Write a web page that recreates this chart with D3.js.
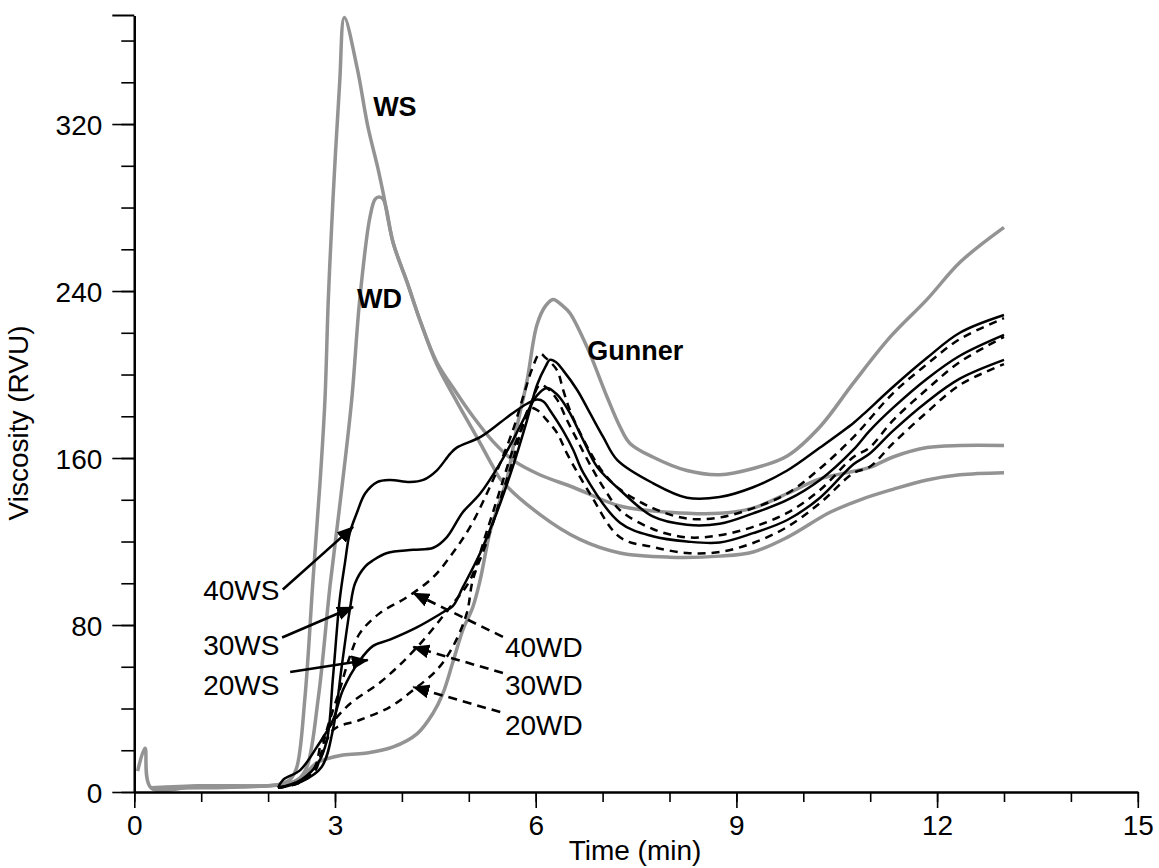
<!DOCTYPE html>
<html>
<head>
<meta charset="utf-8">
<script src="https://cdn.jsdelivr.net/npm/d3@7"></script>
<style>
body { margin: 0; background: #fff; }
text { font-family: Arial, "Liberation Sans", sans-serif; fill: #000; }
</style>
</head>
<body>
<svg id="chart" width="1159" height="868"></svg>
<script>
// axis setup
var timeDomain = [0, 15];
var viscDomain = [0, 372];
var xTicks = [0, 3, 6, 9, 12, 15];
var yTicks = [0, 80, 160, 240, 320];

// [time (min), viscosity (RVU)]
var ws = [[0.05,10],[0.16,21],[0.25,2],[1,3],[2,3],[2.2,4],[2.33,6],[2.43,12],[2.55,45],[2.67,101],[2.78,150],[2.85,188],[2.9,236],[2.97,284],[3.07,340],[3.14,371],[3.33,347],[3.49,319],[3.64,299],[3.72,287],[3.87,263],[4.08,244],[4.27,226],[4.52,205],[4.82,187],[5.12,170],[5.36,156],[5.47,150],[6.06,133],[6.66,121],[7.26,114.5],[8.0,112.5],[8.75,113],[9.25,115],[9.76,122],[10.4,134],[10.85,140],[11.34,145],[11.85,149.5],[12.34,152],[13,153]];
var wd = [[0.25,2],[1,2],[2,3],[2.3,4],[2.45,6],[2.58,12],[2.75,45],[2.93,100],[3.1,145],[3.25,188],[3.37,236],[3.52,275],[3.6,284],[3.66,285],[3.72,284],[3.87,263],[4.08,244],[4.27,226],[4.52,206],[4.8,192],[5.06,180],[5.36,168],[5.66,159],[6.06,152],[6.56,146],[7.26,137],[8.0,134],[8.75,133.5],[9.25,136],[9.76,143],[10.25,150],[10.99,155.5],[11.34,160.5],[11.85,165],[12.34,166],[13,166]];
var gunner = [[0.25,2],[1,3],[2,3],[2.3,4],[2.5,7],[2.73,14],[3.12,17.7],[3.48,18.7],[3.87,21.6],[4.23,28],[4.47,38],[4.61,47],[4.76,62],[4.91,77.6],[5.06,88.6],[5.17,101.6],[5.32,125],[5.47,140],[5.57,150],[5.72,175],[5.87,197],[6.02,224],[6.15,233],[6.26,236],[6.4,233],[6.51,229.5],[6.77,213],[7.07,189],[7.26,175],[7.41,167],[7.75,160.5],[8.26,154],[8.75,152],[9.25,155],[9.76,161],[10.25,175],[10.75,196],[11.3,218],[11.85,236],[12.35,254],[13,270.5]];

var ws40 = [[2.15,2],[2.5,6],[2.75,14],[2.88,25],[2.97,55],[3.07,92],[3.15,110],[3.22,124],[3.33,134],[3.45,143],[3.63,148.5],[3.82,149.5],[4.12,148.5],[4.32,149.5],[4.52,154],[4.72,162],[4.82,165],[5.17,170],[5.47,177],[5.66,181.6],[5.87,186],[6.02,188],[6.12,187],[6.21,183],[6.41,173],[6.56,164],[6.71,153],[7.26,129],[7.75,122.5],[8.26,120],[8.75,119.5],[9.25,124],[9.76,130.3],[10.25,141],[10.75,157],[10.99,162],[11.34,173],[11.85,187],[12.34,198],[13,207]];
var ws30 = [[2.15,2],[2.5,5],[2.8,12],[2.97,30],[3.1,60],[3.22,87],[3.3,100],[3.45,108],[3.57,111],[3.78,114.5],[4.17,116],[4.47,117],[4.67,122],[4.91,134],[5.17,143],[5.47,157.6],[5.66,168.6],[5.87,181.6],[6.02,190],[6.17,193.5],[6.3,191],[6.36,189],[6.51,181.6],[6.71,168.6],[6.92,155.7],[7.26,144.7],[7.75,132],[8.26,128],[8.75,128.5],[9.25,133.5],[9.76,139.9],[10.25,149.5],[10.75,164],[10.99,173],[11.34,184],[11.85,198],[12.34,209],[13,219]];
var ws20 = [[2.15,2],[2.22,5.7],[2.48,10.5],[2.73,21.6],[2.97,34.5],[3.12,49],[3.37,63],[3.57,70],[3.82,73],[4.23,79],[4.61,86],[4.76,89],[4.91,98],[5.17,114.5],[5.42,134],[5.66,156],[5.87,178],[6.02,195],[6.15,204],[6.21,207],[6.3,206],[6.41,202],[6.62,192.6],[6.81,181.6],[7.01,170],[7.22,159],[7.75,148],[8.26,141],[8.75,141.3],[9.25,146],[9.76,154],[10.25,165],[10.75,176.8],[10.9,181],[11.34,194],[11.85,208],[12.34,220],[13,228.5]];
var wd40 = [[2.15,2],[2.5,5],[2.7,10],[2.78,17],[2.88,30],[3.07,49],[3.22,64.7],[3.37,76],[3.67,85.7],[4.08,93.4],[4.47,103],[4.76,114.5],[5.02,127],[5.27,143],[5.47,157.6],[5.66,173.4],[5.81,189],[5.95,203],[6.06,210],[6.15,208],[6.32,202],[6.41,192.6],[6.51,183],[6.62,175],[6.81,163],[7.01,153],[7.26,145],[7.75,136],[8.26,131],[8.75,131.5],[9.25,136],[9.76,143],[10.25,155],[10.75,170],[11.34,191],[11.85,205],[12.34,217],[13,227]];
var wd30 = [[2.15,2],[2.5,5],[2.7,12],[2.82,26],[3.17,40.7],[3.72,53.7],[4.23,69.5],[4.72,88.6],[5.02,101.6],[5.27,125],[5.47,145],[5.66,164],[5.87,180],[6.06,195],[6.15,194],[6.32,188],[6.47,178],[6.62,168.6],[6.81,157],[7.03,145],[7.26,135],[7.75,126],[8.26,122],[8.75,123],[9.25,127],[9.76,133.7],[10.25,144.7],[10.75,160.5],[10.99,165],[11.34,178],[11.85,193],[12.34,206],[13,218]];
var wd20 = [[2.15,2],[2.5,5],[2.75,14],[2.97,29.7],[3.37,34.5],[3.82,40.7],[4.17,48.9],[4.52,58.4],[4.76,69.5],[4.97,85.7],[5.06,101.6],[5.27,120],[5.47,140],[5.66,159],[5.81,176],[5.91,184],[6.02,183],[6.17,178],[6.32,172],[6.47,162],[6.81,143],[7.26,122],[7.75,117.4],[8.26,114.5],[8.75,115],[9.25,119.3],[9.76,127],[10.25,138.4],[10.75,152.8],[10.99,155.7],[11.34,167],[11.85,182],[12.34,195],[13,205]];

var series = [
	{name: 'WS', data: ws, kind: 'gray'},
	{name: 'WD', data: wd, kind: 'gray'},
	{name: 'Gunner', data: gunner, kind: 'gray'},
	{name: '40WS', data: ws40, kind: 'solid'},
	{name: '30WS', data: ws30, kind: 'solid'},
	{name: '20WS', data: ws20, kind: 'solid'},
	{name: '40WD', data: wd40, kind: 'dashed'},
	{name: '30WD', data: wd30, kind: 'dashed'},
	{name: '20WD', data: wd20, kind: 'dashed'}
];

// curve names printed on the plot: [text, t, v]
var curveLabels = [['WS', 3.57, 324], ['WD', 3.33, 232], ['Gunner', 6.77, 207]];
// pointer labels: [text, label t, label v, arrow from t, v, arrow to t, v, dashed]
var pointers = [
	['40WS', 1.03, 92, 2.22, 97, 3.27, 127, false],
	['30WS', 1.03, 65.6, 2.21, 74, 3.27, 88.6, false],
	['20WS', 1.03, 46.5, 2.33, 57.5, 3.49, 63.2, false],
	['40WD', 5.54, 64.7, 5.51, 74.3, 4.17, 95.3, true],
	['30WD', 5.54, 46.5, 5.51, 57, 4.17, 69.5, true],
	['20WD', 5.54, 27.3, 5.47, 38.3, 4.17, 50.3, true]
];

var svg = d3.select('#chart');

var x_scale = d3.scaleLinear().domain(timeDomain).range([134.3, 1137.8]);
var y_scale = d3.scaleLinear().domain(viscDomain).range([792, 15.5]);

//arrow head
svg.append('defs').append('marker')
	.attr('id', 'head')
	.attr('markerUnits', 'userSpaceOnUse')
	.attr('markerWidth', 18)
	.attr('markerHeight', 14)
	.attr('refX', 16)
	.attr('refY', 7)
	.attr('orient', 'auto')
	.append('path')
	.attr('d', 'M0,0 L17,7 L0,14 Z')
	.attr('fill', '#000');

var line = d3.line()
	.x(function(d) { return x_scale(d[0]); })
	.y(function(d) { return y_scale(d[1]); })
	.curve(d3.curveCatmullRom.alpha(0.5));

// gray curves first, black on top
svg.selectAll('path.curve')
	.data(series)
	.enter()
	.append('path')
	.attr('class', 'curve')
	.attr('fill', 'none')
	.attr('stroke', function(d) { return d.kind == 'gray' ? '#939393' : '#000'; })
	.attr('stroke-width', function(d) { return d.kind == 'gray' ? 3.5 : 2.5; })
	.attr('stroke-dasharray', function(d) { return d.kind == 'dashed' ? '8,6' : null; })
	.attr('stroke-linejoin', 'round')
	.attr('d', function(d) { return line(d.data); });

//axes
var x_axis = d3.axisBottom(x_scale).tickValues(xTicks).tickSize(16).tickSizeOuter(0).tickPadding(6);
var x_minor = d3.axisBottom(x_scale).tickValues(d3.range(0, 16, 1)).tickSize(10).tickSizeOuter(0).tickFormat('');
var y_axis = d3.axisLeft(y_scale).tickValues(yTicks).tickSize(22).tickSizeOuter(0).tickPadding(10);
var y_minor = d3.axisLeft(y_scale).tickValues(d3.range(0, 372, 20)).tickSize(13).tickSizeOuter(0).tickFormat('');

svg.append('g').attr('transform', 'translate(0,' + y_scale(0) + ')').call(x_minor);
svg.append('g').attr('class', 'xa').attr('transform', 'translate(0,' + y_scale(0) + ')').call(x_axis);
svg.append('g').attr('transform', 'translate(' + x_scale(0) + ',0)').call(y_minor);
svg.append('g').attr('class', 'ya').attr('transform', 'translate(' + x_scale(0) + ',0)').call(y_axis);

// cap at the top of the y axis
svg.append('line')
	.attr('x1', x_scale(0) - 22).attr('x2', x_scale(0))
	.attr('y1', y_scale(viscDomain[1])).attr('y2', y_scale(viscDomain[1]))
	.attr('stroke', '#000').attr('stroke-width', 2);

svg.selectAll('.domain').attr('stroke-width', 2.2);
svg.selectAll('.tick line').attr('stroke-width', 1.6);
svg.selectAll('.tick text')
	.attr('font-size', 28)
	.attr('font-family', 'Arial, "Liberation Sans", sans-serif')
	.attr('fill', '#000');
svg.selectAll('.xa .tick text').attr('dy', '0.75em');
svg.selectAll('.ya .tick text').attr('dy', '0.36em');

svg.append('text')
	.attr('x', 635)
	.attr('y', 860)
	.attr('text-anchor', 'middle')
	.attr('font-size', 28)
	.text('Time (min)');

svg.append('text')
	.attr('transform', 'translate(28,423) rotate(-90)')
	.attr('text-anchor', 'middle')
	.attr('font-size', 28)
	.text('Viscosity (RVU)');

svg.selectAll('text.curvelab')
	.data(curveLabels)
	.enter()
	.append('text')
	.attr('class', 'curvelab')
	.attr('x', function(d) { return x_scale(d[1]); })
	.attr('y', function(d) { return y_scale(d[2]); })
	.attr('font-size', 27)
	.attr('font-weight', 'bold')
	.text(function(d) { return d[0]; });

svg.selectAll('line.pointer')
	.data(pointers)
	.enter()
	.append('line')
	.attr('class', 'pointer')
	.attr('x1', function(d) { return x_scale(d[3]); })
	.attr('y1', function(d) { return y_scale(d[4]); })
	.attr('x2', function(d) { return x_scale(d[5]); })
	.attr('y2', function(d) { return y_scale(d[6]); })
	.attr('stroke', '#000')
	.attr('stroke-width', 2.6)
	.attr('stroke-dasharray', function(d) { return d[7] ? '9,6' : null; })
	.attr('marker-end', 'url(#head)');

svg.selectAll('text.pointlab')
	.data(pointers)
	.enter()
	.append('text')
	.attr('class', 'pointlab')
	.attr('x', function(d) { return x_scale(d[1]); })
	.attr('y', function(d) { return y_scale(d[2]); })
	.attr('font-size', 28)
	.text(function(d) { return d[0]; });
</script>
</body>
</html>
